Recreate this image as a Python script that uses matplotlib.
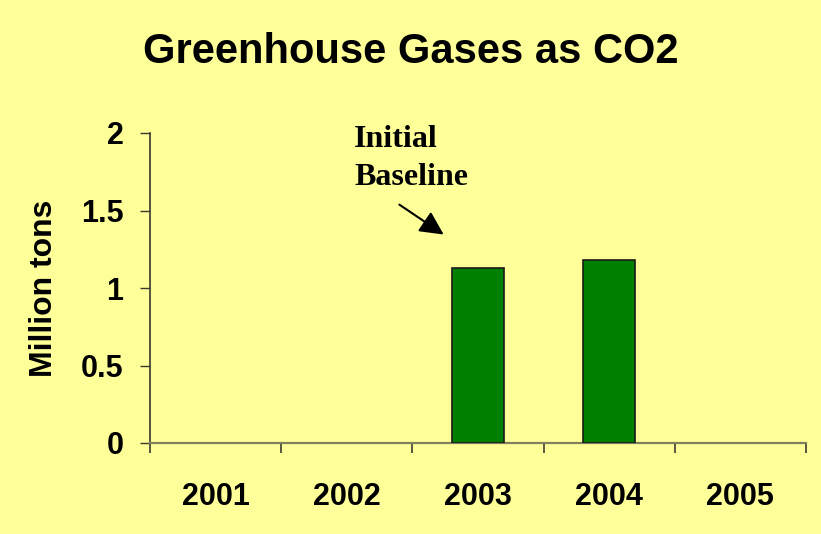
import matplotlib
matplotlib.use('Agg')
import matplotlib.pyplot as plt
import numpy as np

# data
years = ['2001', '2002', '2003', '2004', '2005']
co2_million_tons = [0, 0, 1.13, 1.18, 0]
y_ticks = [0, 0.5, 1, 1.5, 2]
y_tick_labels = ['0', '0.5', '1', '1.5', '2']

bg = '#FFFF99'
sans = 'Liberation Sans'
serif = 'Liberation Serif'

fig = plt.figure(figsize=(8.21, 5.34), dpi=100)
fig.patch.set_facecolor(bg)
ax = fig.add_axes([150 / 821, 1 - 443 / 534, 656 / 821, 310 / 534])
ax.set_facecolor(bg)

x = np.arange(len(years))
heights = np.array(co2_million_tons)
mask = heights > 0
ax.bar(x[mask], heights[mask], width=0.4, color='#008000',
       edgecolor='#1a1a1a', linewidth=1.2, zorder=3)

ax.set_xlim(-0.5, len(years) - 0.5)
ax.set_ylim(0, 2)

# spines
for s in ['top', 'right']:
    ax.spines[s].set_visible(False)
ax.spines['left'].set_color('#3a3a30')
ax.spines['bottom'].set_color('#808060')
ax.spines['left'].set_linewidth(1.2)
ax.spines['bottom'].set_linewidth(1.6)

# y ticks
ax.set_yticks(y_ticks)
ax.set_yticklabels(y_tick_labels, fontsize=22, fontweight='bold', family=sans)
ax.tick_params(axis='y', direction='out', length=7, width=1, color='#3a3a30', pad=12)

# x: labels at centres, ticks at boundaries
ax.set_xticks(x)
ax.set_xticklabels(years, fontsize=22, fontweight='bold', family=sans)
ax.tick_params(axis='x', which='major', length=0, pad=28)
ax.set_xticks(np.arange(len(years) + 1) - 0.5, minor=True)
ax.tick_params(axis='x', which='minor', direction='out', length=7, width=1.2, color='#3a3a30')

# title and y label
fig.text(411 / 821, 1 - 52 / 534, 'Greenhouse Gases as CO2', ha='center', va='center',
         fontsize=30, fontweight='bold', family=sans)
fig.text(44 / 821, 1 - 288 / 534, 'Million tons', ha='center', va='center', rotation=90,
         fontsize=23, fontweight='bold', family=sans)

# annotation
ax.text(1.055, 1.91, 'Initial', ha='left', va='baseline', fontsize=23,
        fontweight='bold', family=serif, clip_on=False)
ax.text(1.055, 1.665, 'Baseline', ha='left', va='baseline', fontsize=23,
        fontweight='bold', family=serif, clip_on=False)
ax.annotate('', xy=(1.756, 1.335), xytext=(1.383, 1.548),
            arrowprops=dict(arrowstyle='-|>', color='black', lw=1.5, mutation_scale=36))

fig.savefig('out.png', dpi=100, facecolor=fig.get_facecolor())
